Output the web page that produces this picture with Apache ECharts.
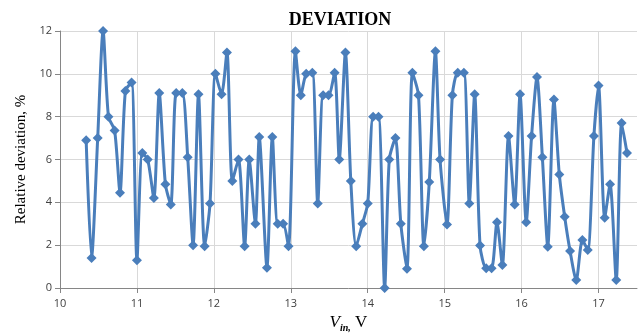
<!DOCTYPE html>
<html><head><meta charset="utf-8">
<script src="https://cdn.jsdelivr.net/npm/echarts@6/dist/echarts.min.js"></script>
<style>html,body{margin:0;padding:0;background:#fff}#c{width:642px;height:334px}</style>
</head><body><div id="c"></div>
<script>
const titleText = "DEVIATION";
const yAxisName = "Relative deviation, %";
const xTicks = [10, 11, 12, 13, 14, 15, 16, 17];
const yTicks = [0, 2, 4, 6, 8, 10, 12];
const vin = [10.34,10.41,10.49,10.56,10.63,10.71,10.78,10.85,10.93,11.00,
  11.07,11.14,11.22,11.29,11.37,11.44,11.51,11.59,11.66,11.73,
  11.80,11.88,11.95,12.02,12.10,12.17,12.24,12.32,12.40,12.46,
  12.54,12.59,12.69,12.76,12.83,12.90,12.97,13.06,13.13,13.20,
  13.28,13.35,13.42,13.49,13.57,13.63,13.71,13.78,13.85,13.93,
  14.00,14.07,14.14,14.22,14.28,14.36,14.43,14.51,14.58,14.66,
  14.73,14.80,14.88,14.94,15.03,15.10,15.17,15.25,15.32,15.39,
  15.46,15.54,15.61,15.68,15.75,15.83,15.91,15.98,16.06,16.13,
  16.20,16.27,16.34,16.42,16.49,16.56,16.63,16.71,16.79,16.86,
  16.94,17.00,17.08,17.15,17.23,17.30,17.37];
const deviation = [6.9,1.4,7.0,12.0,8.0,7.35,4.45,9.2,9.6,1.3,
  6.3,6.0,4.2,9.1,4.85,3.9,9.1,9.1,6.1,2.0,
  9.05,1.95,3.95,10.0,9.05,11.0,5.0,6.0,1.95,6.0,
  3.0,7.05,0.95,7.05,3.0,3.0,1.95,11.05,9.0,10.0,
  10.05,3.95,9.0,9.0,10.05,6.0,11.0,5.0,1.95,3.0,
  3.95,8.0,8.0,0.0,6.0,7.0,3.0,0.9,10.05,9.0,
  1.95,4.95,11.05,6.0,2.97,9.0,10.05,10.05,3.95,9.05,
  1.98,0.92,0.92,3.07,1.07,7.1,3.9,9.05,3.07,7.1,
  9.85,6.1,1.93,8.8,5.3,3.33,1.73,0.37,2.24,1.77,
  7.1,9.45,3.28,4.84,0.37,7.7,6.3];

const chart = echarts.init(document.getElementById('c'), null, {renderer: 'canvas'});
const lbl = {fontFamily: 'Open Sans, Noto Sans, sans-serif', fontSize: 11, color: '#404040'};
chart.setOption({
  animation: false,
  title: {text: titleText, left: 335, textAlign: 'center', top: 6,
    textStyle: {fontFamily: 'Liberation Serif, serif', fontWeight: 'bold', fontSize: 18, color: '#000'}},
  grid: {left: 60, right: 5, top: 31, bottom: 46, containLabel: false, outerBoundsMode: 'none'},
  xAxis: {
    type: 'value', min: 10, max: 17.5, interval: 1,
    name: '{v|V}{s|in,}{u| V}', nameLocation: 'middle', nameGap: 25,
    nameTextStyle: {rich: {
      v: {fontFamily: 'Liberation Serif, serif', fontStyle: 'italic', fontSize: 17, color: '#000', verticalAlign: 'bottom'},
      s: {fontFamily: 'Liberation Serif, serif', fontStyle: 'italic', fontWeight: 'bold', fontSize: 10, color: '#000', verticalAlign: 'bottom', padding: [0,0,-3,0]},
      u: {fontFamily: 'Liberation Serif, serif', fontSize: 17, color: '#000', verticalAlign: 'bottom'}
    }},
    axisLine: {show: true, lineStyle: {color: '#868686', width: 1}},
    axisTick: {show: true, length: 5, lineStyle: {color: '#868686'}},
    axisLabel: Object.assign({margin: 10, showMaxLabel: false,
      formatter: v => xTicks.indexOf(v) >= 0 ? String(v) : ''}, lbl),
    splitLine: {show: true, showMaxLine: false, lineStyle: {color: '#d9d9d9', width: 1}}
  },
  yAxis: {
    type: 'value', min: 0, max: 12, interval: 2,
    name: yAxisName, nameLocation: 'middle', nameGap: 29, nameRotate: 90,
    nameTextStyle: {fontFamily: 'Liberation Serif, serif', fontSize: 15, color: '#000'},
    axisLine: {show: true, lineStyle: {color: '#868686', width: 1}},
    axisTick: {show: true, length: 5, lineStyle: {color: '#868686'}},
    axisLabel: Object.assign({margin: 8, formatter: v => yTicks.indexOf(v) >= 0 ? String(v) : ''}, lbl),
    splitLine: {show: true, lineStyle: {color: '#d9d9d9', width: 1}}
  },
  series: [{
    type: 'line',
    data: vin.map((x, i) => [x, deviation[i]]),
    smooth: 0.25,
    symbol: 'diamond', symbolSize: 10,
    lineStyle: {color: '#4a7ebb', width: 3},
    itemStyle: {color: '#4a7ebb'},
    clip: true
  }]
});
</script></body></html>
